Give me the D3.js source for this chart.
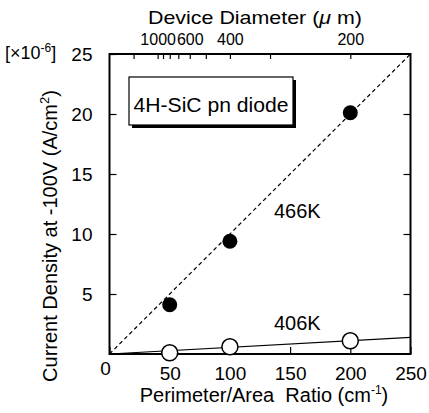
<!DOCTYPE html>
<html><head><meta charset="utf-8">
<script src="https://cdn.jsdelivr.net/npm/d3@7"></script>
<style>
html,body{margin:0;padding:0;background:#fff;}
svg{display:block;font-family:"Liberation Sans",Arial,Helvetica,sans-serif;}
</style></head>
<body>
<svg id="c" width="429" height="413"></svg>
<script>
// ---- data ----
const ratio = [50, 100, 200];                 // Perimeter/Area ratio (cm^-1)
const j466 = [4.1, 9.4, 20.1];                // x1e-6 A/cm2, 466K
const j406 = [0.1, 0.6, 1.1];                 // x1e-6 A/cm2, 406K
const fitX = [0, 250];
const fit466 = [0, 25];
const fit406 = [0, 1.38];
const xTicks = [0, 50, 100, 150, 200, 250];
const yTicks = [5, 10, 15, 20, 25];
const diamTicks = [2000, 1000, 900, 800, 700, 600, 500, 400, 300, 200]; // um
const diamLabels = [1000, 600, 400, 200];

const svg = d3.select("#c");
const x = d3.scaleLinear().domain([0, 250]).range([109.5, 410.5]);
const y = d3.scaleLinear().domain([0, 25]).range([354, 54]);
const toRatio = d => 4e4 / d; // diameter (um) -> P/A (cm^-1)

function fitWidth(sel, w) {
  sel.each(function () {
    this.setAttribute("textLength", w);
    this.setAttribute("lengthAdjust", "spacingAndGlyphs");
  });
}

// ---- frame ----
svg.append("rect").attr("x", x(0)).attr("y", y(25))
  .attr("width", x(250) - x(0)).attr("height", y(0) - y(25))
  .attr("fill", "none").attr("stroke", "#000").attr("stroke-width", 2);

// ---- axes (inward ticks) ----
const gB = svg.append("g").attr("transform", `translate(0,${y(0)})`)
  .call(d3.axisBottom(x).tickValues(xTicks).tickSizeInner(-7).tickSizeOuter(0).tickPadding(13)
    .tickFormat(v => v === 0 ? "" : String(v)));
const gL = svg.append("g").attr("transform", `translate(${x(0)},0)`)
  .call(d3.axisLeft(y).tickValues(yTicks).tickSizeInner(-7).tickSizeOuter(0).tickPadding(17));
const gR = svg.append("g").attr("transform", `translate(${x(250)},0)`)
  .call(d3.axisRight(y).tickValues(yTicks.slice(0, 4)).tickSizeInner(-7).tickSizeOuter(0).tickFormat(""));
const gT = svg.append("g").attr("transform", `translate(0,${y(25)})`)
  .call(d3.axisTop(x).tickValues(diamTicks.map(toRatio)).tickSizeInner(-5).tickSizeOuter(0)
    .tickPadding(9).tickFormat((v, i) => diamLabels.includes(diamTicks[i]) ? String(diamTicks[i]) : ""));

[gB, gL, gR, gT].forEach(g => {
  g.select(".domain").remove();
  g.selectAll("line").attr("stroke", "#000").attr("stroke-width", 1.2);
  g.selectAll("text").attr("fill", "#000").attr("font-family", "Liberation Sans, Arial, sans-serif");
});
gB.selectAll("text").attr("font-size", 19);
gL.selectAll("text").attr("font-size", 19);
gT.selectAll("text").attr("font-size", 16);

// shared origin label "0"
svg.append("text").attr("x", x(0) - 4).attr("y", y(0) + 21).attr("text-anchor", "middle")
  .attr("font-size", 19).text(xTicks[0]);

// ---- fit lines ----
const line = d3.line().x(d => x(d[0])).y(d => y(d[1]));
svg.append("path").datum(fitX.map((v, i) => [v, fit466[i]]))
  .attr("d", line).attr("fill", "none").attr("stroke", "#000")
  .attr("stroke-width", 1.2).attr("stroke-dasharray", "4,3");
svg.append("path").datum(fitX.map((v, i) => [v, fit406[i]]))
  .attr("d", line).attr("fill", "none").attr("stroke", "#000").attr("stroke-width", 1.2);

// ---- points ----
svg.append("g").selectAll("circle").data(ratio).join("circle")
  .attr("cx", d => x(d)).attr("cy", (d, i) => y(j466[i])).attr("r", 7.5).attr("fill", "#000");
svg.append("g").selectAll("circle").data(ratio).join("circle")
  .attr("cx", d => x(d)).attr("cy", (d, i) => y(j406[i])).attr("r", 8)
  .attr("fill", "#fff").attr("stroke", "#000").attr("stroke-width", 1.5);

// ---- series labels ----
svg.append("text").attr("x", x(156)).attr("y", y(11.3)).attr("text-anchor", "middle")
  .attr("font-size", 20).text("466K");
svg.append("text").attr("x", x(156)).attr("y", y(2.0)).attr("text-anchor", "middle")
  .attr("font-size", 20).text("406K");

// ---- legend box ----
const bx = 129, by = 77, bw = 164, bh = 48;
svg.append("rect").attr("x", bx + 3).attr("y", by + 3).attr("width", bw).attr("height", bh).attr("fill", "#000");
svg.append("rect").attr("x", bx).attr("y", by).attr("width", bw).attr("height", bh)
  .attr("fill", "#fff").attr("stroke", "#000").attr("stroke-width", 1.2);
svg.append("text").attr("x", bx + bw / 2).attr("y", by + 35).attr("text-anchor", "middle")
  .attr("font-size", 20).text("4H-SiC pn diode").call(fitWidth, 155);

// ---- axis titles ----
const tT = svg.append("text").attr("x", 255).attr("y", 24).attr("text-anchor", "middle").attr("font-size", 19);
tT.append("tspan").text("Device Diameter (");
tT.append("tspan").attr("font-style", "italic").text("\u03bc");
tT.append("tspan").text(" m)");
fitWidth(tT, 214);

const tB = svg.append("text").attr("x", 264).attr("y", 402).attr("text-anchor", "middle").attr("font-size", 20);
tB.append("tspan").text("Perimeter/Area\u00a0 Ratio (cm");
tB.append("tspan").attr("dy", -8).attr("font-size", 12).text("-1");
tB.append("tspan").attr("dy", 8).text(")");

const tL = svg.append("text").attr("transform", "translate(57,236) rotate(-90)")
  .attr("text-anchor", "middle").attr("font-size", 20);
tL.append("tspan").text("Current Density at -100V (A/cm");
tL.append("tspan").attr("dy", -8).attr("font-size", 13).text("2");
tL.append("tspan").attr("dy", 8).text(")");

const tU = svg.append("text").attr("x", 5).attr("y", 59).attr("font-size", 18);
tU.append("tspan").text("[\u00d710");
tU.append("tspan").attr("dy", -7).attr("font-size", 12).text("-6");
tU.append("tspan").attr("dy", 7).text("]");
</script>
</body></html>
